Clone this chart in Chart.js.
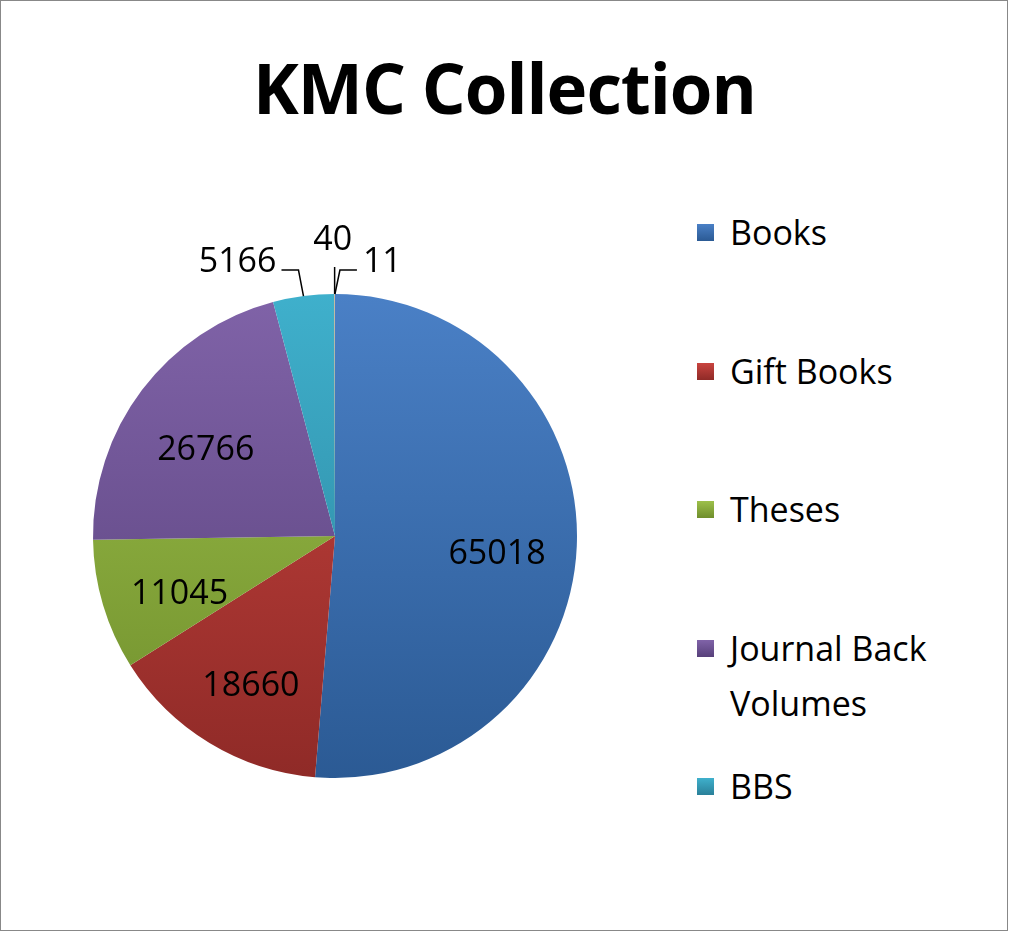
<!DOCTYPE html>
<html><head><meta charset="utf-8">
<script src="https://cdn.jsdelivr.net/npm/chart.js@4"></script>
<style>
body{margin:0;background:#fff;font-family:"Open Sans",sans-serif;}
#frame{position:absolute;left:0;top:0;width:1006px;height:929px;border:1px solid #888;}
#title{position:absolute;left:0;width:1009px;top:40px;text-align:center;font-weight:bold;font-size:69px;color:#000;letter-spacing:-1px;}
#wrap{position:absolute;left:0;top:200px;width:670px;height:672px;}
#legend{position:absolute;left:697px;top:205px;font-size:34px;color:#000;}
.li{position:absolute;left:0;white-space:nowrap;line-height:55px;}
.sw{position:absolute;left:0;top:19px;width:17px;height:17px;}
.tx{position:absolute;left:33px;top:0;}
</style></head><body>
<div id="frame"></div>
<div id="title">KMC Collection</div>
<div id="wrap"><canvas id="c"></canvas></div>
<div id="legend"></div>
<script>
const categories=["Books","Gift Books","Theses","Journal Back Volumes","BBS","Other A","Other B"];
const values=[65018,18660,11045,26766,5166,40,11];
const legendLabels=["Books","Gift Books","Theses","Journal Back|Volumes","BBS"];
const colors=[["#4a80c6","#2b5a94"],["#c9443f","#8f2a27"],["#9dc04a","#6f8e2c"],["#8063a8","#57407a"],["#3fb0cc","#2a8099"],["#f0953f","#c06a20"],["#9bb0d4","#7488ad"]];
const legendTops=[0,139,277,416,554];
const lg=document.getElementById('legend');
legendLabels.forEach((l,i)=>{const d=document.createElement('div');d.className='li';d.style.top=legendTops[i]+'px';
d.innerHTML='<div class="sw" style="background:linear-gradient('+colors[i][0]+','+colors[i][1]+')"></div><div class="tx">'+l.split('|').join('<br>')+'</div>';lg.appendChild(d);});
const labelPlugin={id:'lbl',afterDatasetsDraw(chart){
const ctx=chart.ctx;const meta=chart.getDatasetMeta(0);
ctx.save();ctx.font='34px "Open Sans"';ctx.fillStyle='#000';ctx.strokeStyle='#000';ctx.lineWidth=1.5;ctx.textBaseline='middle';
meta.data.forEach((a,i)=>{const mid=(a.startAngle+a.endAngle)/2;const R=a.outerRadius;const cx=a.x,cy=a.y;
if(i<4){ctx.textAlign='center';ctx.fillText(values[i],cx+Math.cos(mid)*R*0.67,cy+Math.sin(mid)*R*0.67+12);}
else{const ex=cx+Math.cos(mid)*R,ey=cy+Math.sin(mid)*R;const ty=cy-R-24;
ctx.beginPath();ctx.moveTo(ex,ey);
if(i===4){ctx.lineTo(ex-5,ty);ctx.lineTo(ex-22,ty);ctx.stroke();ctx.textAlign='right';ctx.fillText(values[i],ex-27,ty-8);}
else if(i===5){ctx.lineTo(ex,ty-3);ctx.stroke();ctx.textAlign='center';ctx.fillText(values[i],ex-2,ty-30);}
else{ctx.lineTo(ex+5,ty);ctx.lineTo(ex+22,ty);ctx.stroke();ctx.textAlign='left';ctx.fillText(values[i],ex+28,ty-8);}}
});ctx.restore();}};
new Chart(document.getElementById('c'),{type:'pie',
data:{labels:categories,datasets:[{data:values,borderWidth:0,
backgroundColor:(c)=>{const ch=c.chart;const ca=ch.chartArea;if(!ca)return colors[c.dataIndex][0];
const g=ch.ctx.createLinearGradient(0,ca.top,0,ca.bottom);g.addColorStop(0,colors[c.dataIndex][0]);g.addColorStop(1,colors[c.dataIndex][1]);return g;}}]},
options:{responsive:true,maintainAspectRatio:false,animation:false,layout:{padding:93},
plugins:{legend:{display:false},tooltip:{enabled:false}}},plugins:[labelPlugin]});
</script></body></html>
